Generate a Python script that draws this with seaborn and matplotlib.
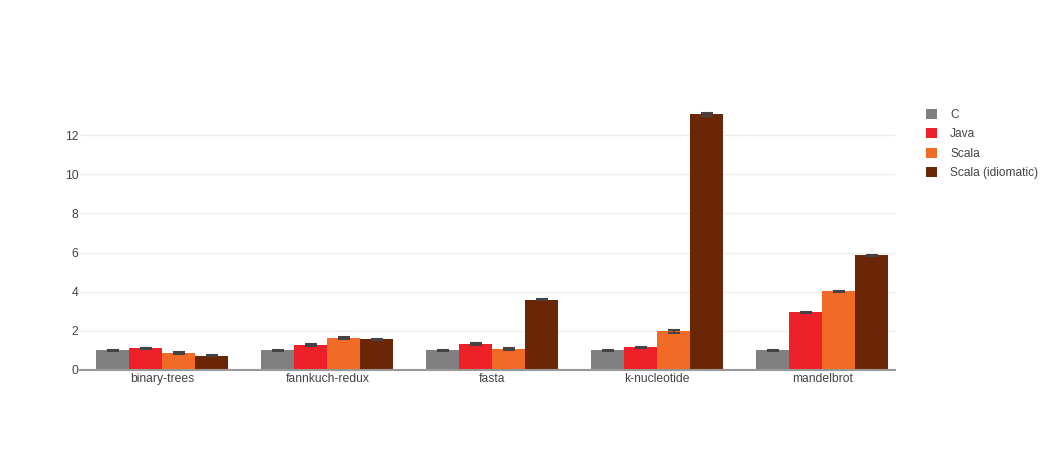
import matplotlib
matplotlib.use("Agg")
import matplotlib.pyplot as plt
import seaborn as sns
import pandas as pd
import numpy as np
from matplotlib.patches import Patch

benchmarks = ["binary-trees", "fannkuch-redux", "fasta", "k-nucleotide", "mandelbrot"]
languages = ["C", "Java", "Scala", "Scala (idiomatic)"]
c_vals = [1.0, 1.0, 1.0, 1.0, 1.0]
java_vals = [1.10, 1.28, 1.33, 1.17, 2.94]
scala_vals = [0.87, 1.63, 1.07, 1.97, 4.01]
idiom_vals = [0.74, 1.56, 3.58, 13.05, 5.85]
c_err = [0.03, 0.03, 0.03, 0.03, 0.03]
java_err = [0.04, 0.03, 0.04, 0.03, 0.03]
scala_err = [0.03, 0.03, 0.04, 0.09, 0.03]
idiom_err = [0.03, 0.03, 0.03, 0.1, 0.03]
colors = ["#808080", "#ee2028", "#f26b26", "#6b2605"]

rows = []
for lang, vals, errs in zip(languages, [c_vals, java_vals, scala_vals, idiom_vals],
                            [c_err, java_err, scala_err, idiom_err]):
    for b, v, e in zip(benchmarks, vals, errs):
        rows.append({"benchmark": b, "language": lang, "value": v, "err": e})
df = pd.DataFrame(rows)

sns.set_theme(style="white")
plt.rcParams["font.family"] = ["Liberation Sans", "DejaVu Sans"]

fig = plt.figure(figsize=(10.59, 4.5), dpi=100)
ax = fig.add_axes([80 / 1059, 80 / 450, 815 / 1059, 270 / 450])

sns.barplot(data=df, x="benchmark", y="value", hue="language", order=benchmarks,
            hue_order=languages, palette=colors, errorbar=None, width=0.8,
            saturation=1, ax=ax, legend=False, linewidth=0, gap=0)

# error bars at bar centers
for i, lang in enumerate(languages):
    cont = ax.containers[i]
    sub = df[df.language == lang].set_index("benchmark").loc[benchmarks]
    xs = [p.get_x() + p.get_width() / 2 for p in cont.patches]
    ax.errorbar(xs, sub["value"].values, yerr=sub["err"].values, fmt="none",
                ecolor="#444444", elinewidth=1.5, capsize=4.5, capthick=1.5, zorder=5)

ax.set_xlim(-0.5, 4.442)
ax.set_ylim(0, 13.79)
ax.set_yticks([0, 2, 4, 6, 8, 10, 12])
ax.grid(axis="y", color="#eeeeee", linewidth=1)
ax.set_axisbelow(True)
for s in ["top", "right", "left"]:
    ax.spines[s].set_visible(False)
ax.spines["bottom"].set_color("#999999")
ax.spines["bottom"].set_linewidth(1.5)
ax.tick_params(axis="x", length=0, labelsize=8.7, colors="#444444", pad=2)
ax.tick_params(axis="y", length=0, labelsize=8.7, colors="#444444", pad=1)
ax.set_xlabel("")
ax.set_ylabel("")

handles = [Patch(facecolor=c, edgecolor="none", label=l) for c, l in zip(colors, languages)]
fig.legend(handles=handles, loc="upper left", bbox_to_anchor=(915 / 1059, 1 - 98 / 450),
           frameon=False, fontsize=8.6, handlelength=0.95, handleheight=0.95,
           handletextpad=1.1, labelspacing=0.6, labelcolor="#444444")

fig.savefig("out.png", dpi=100)
